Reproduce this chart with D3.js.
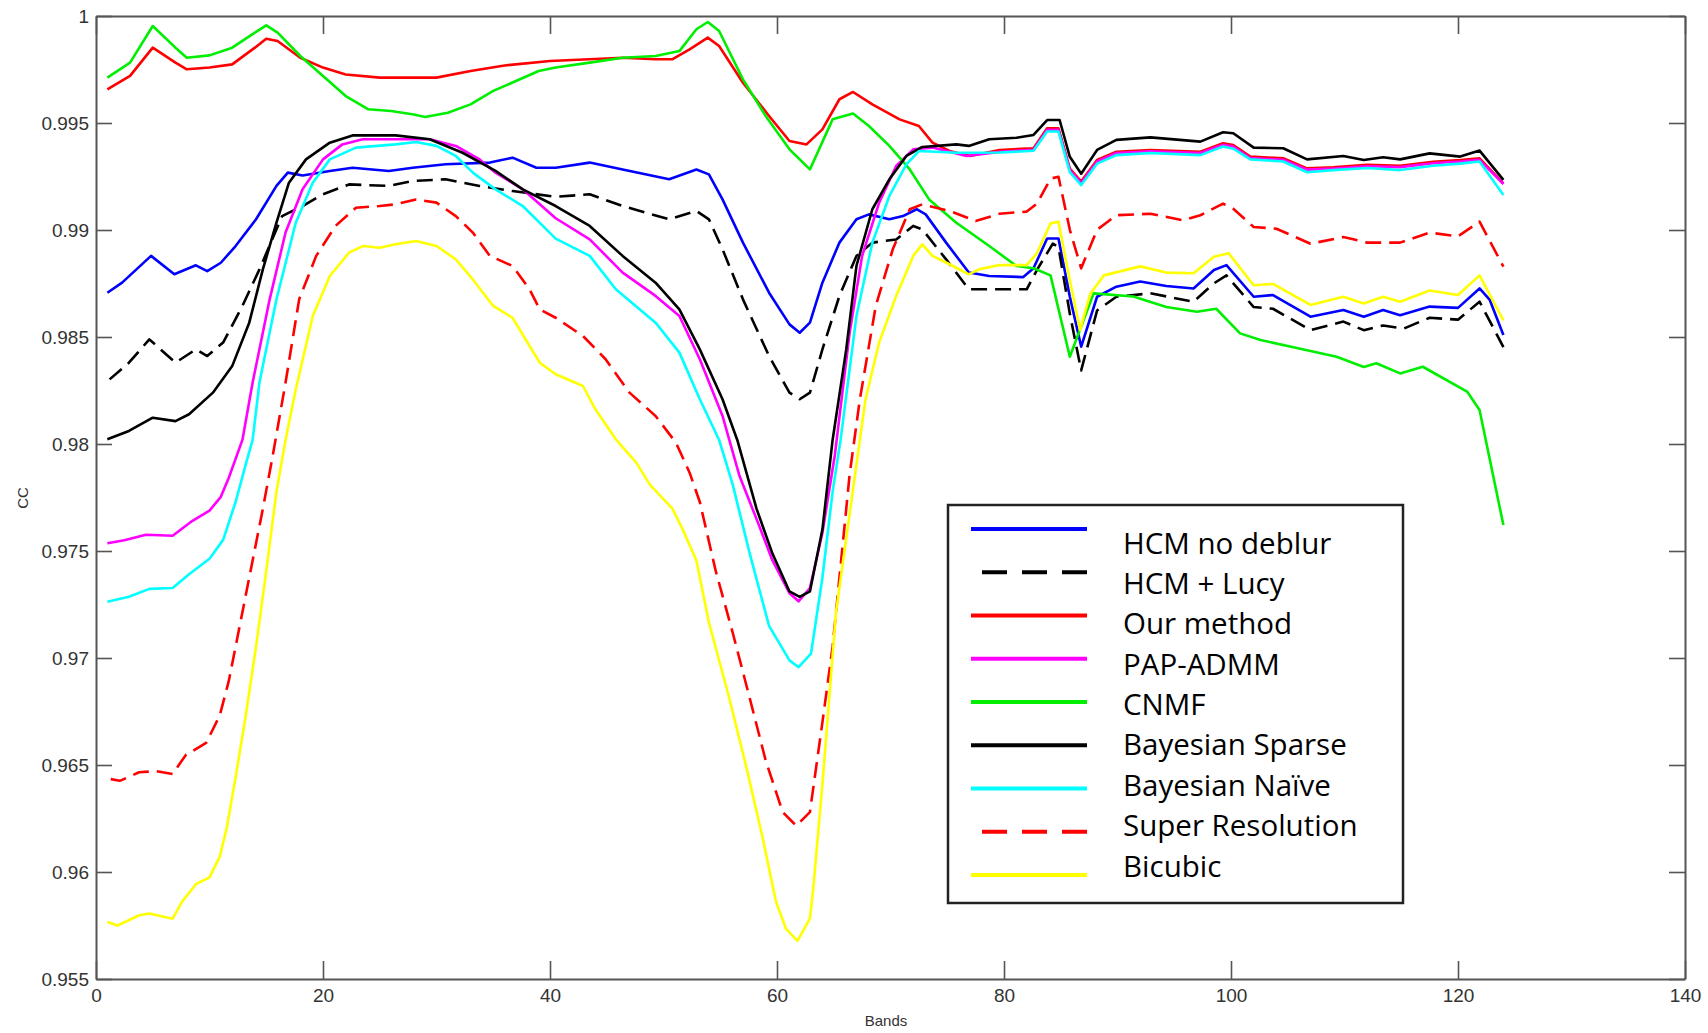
<!DOCTYPE html>
<html>
<head>
<meta charset="utf-8">
<title>CC per band</title>
<script src="https://cdn.jsdelivr.net/npm/d3@7"></script>
<style>
  html, body { margin: 0; padding: 0; background: #fff; }
  svg { display: block; }
  .tick text { font-family: "Liberation Sans", Arial, sans-serif; font-size: 19px; fill: #333; }
</style>
</head>
<body>
<svg id="chart" width="1708" height="1033"></svg>
<script>
// [band, CC] pairs
const hcmNoDeblur = [[1,0.98707],[2.3,0.98754],[4.85,0.98879],[6.9,0.98793],[8.8,0.98835],[9.8,0.98808],[11,0.98847],[12.3,0.98925],[14.1,0.9905],[15.9,0.99206],[16.9,0.99268],[18.2,0.99255],[20.6,0.99276],[22.6,0.99291],[25.8,0.99276],[27.9,0.99291],[30.8,0.99307],[34.7,0.99315],[36.7,0.99338],[38.8,0.99291],[40.5,0.99291],[43.5,0.99315],[46.4,0.99283],[50.5,0.99237],[52.9,0.99283],[54,0.9926],[55.2,0.99143],[57,0.98941],[59.3,0.98707],[61.1,0.98559],[62,0.9852],[62.9,0.98567],[64,0.98754],[65.5,0.98941],[67,0.9905],[68.1,0.99073],[69.9,0.9905],[71.1,0.99065],[72.3,0.99097],[73.1,0.99073],[74.9,0.98941],[76.9,0.98801],[78.7,0.98785],[81.7,0.9878],[82.6,0.98821],[83.8,0.9896],[84.8,0.9896],[85.8,0.98688],[86.8,0.98455],[88.2,0.98688],[89.9,0.98735],[92,0.98759],[94.3,0.98738],[96.7,0.98727],[98.5,0.98813],[99.6,0.98836],[102,0.98688],[103.7,0.98696],[107,0.98595],[109.9,0.98626],[111.7,0.98595],[113.4,0.98626],[114.9,0.98602],[117.5,0.98642],[120,0.98636],[121.9,0.98727],[122.8,0.98673],[124,0.98509]];
const hcmLucy = [[1.2,0.98302],[2.9,0.9838],[4.7,0.98489],[7,0.9838],[8.8,0.98442],[9.8,0.98411],[11.2,0.98474],[12.9,0.98645],[14.4,0.98816],[16.4,0.99065],[18.2,0.99112],[20,0.99167],[22.3,0.99213],[25.8,0.99206],[27.9,0.99229],[30.8,0.99237],[33.8,0.99206],[36.7,0.99182],[40.5,0.99155],[43.5,0.99167],[46.4,0.99112],[50.5,0.9905],[52.9,0.99089],[54,0.9905],[55.2,0.9891],[57,0.98676],[59.3,0.98411],[61.1,0.9824],[62,0.98209],[62.9,0.9824],[64,0.98442],[65.5,0.98692],[67,0.98879],[68.4,0.98941],[70.5,0.98956],[72,0.99019],[72.8,0.99003],[74.9,0.98863],[76.9,0.98723],[79.6,0.98723],[82,0.98723],[82.9,0.98813],[84.3,0.98936],[84.8,0.9892],[85.8,0.98609],[86.8,0.98344],[88.2,0.98624],[89.9,0.98688],[92.9,0.98704],[96.7,0.98665],[98.5,0.98751],[99.6,0.98788],[102,0.9864],[103.7,0.98632],[107,0.98532],[109.9,0.98572],[111.7,0.98532],[113.4,0.98554],[115.2,0.98539],[117.5,0.9859],[120,0.98581],[121.9,0.98665],[124,0.98453]];
const ourMethod = [[1,0.99657],[3,0.9972],[5,0.99852],[7,0.99782],[8,0.99751],[10,0.99759],[12,0.99774],[14,0.99852],[15,0.99894],[16,0.99883],[18,0.99805],[20,0.99759],[22,0.99727],[25,0.99712],[30,0.99712],[33,0.99743],[36,0.99769],[40,0.9979],[46.4,0.99805],[49.3,0.99798],[50.8,0.99798],[52.3,0.99844],[53.9,0.99899],[54.9,0.9986],[57,0.99688],[59.3,0.99533],[61.1,0.99416],[62.6,0.994],[64,0.9947],[65.5,0.99611],[66.7,0.99645],[68.4,0.99587],[70.8,0.99517],[72.5,0.99486],[73.7,0.99408],[75.2,0.99369],[77,0.99346],[79.6,0.99374],[82.6,0.99382],[83.8,0.99475],[84.8,0.99475],[85.8,0.99287],[86.8,0.99226],[88.2,0.99327],[89.9,0.99366],[92.9,0.99374],[97.3,0.99366],[99.3,0.99405],[100.2,0.99397],[101.7,0.99343],[104.6,0.99335],[106.7,0.99288],[109,0.99293],[112,0.99305],[114.9,0.993],[117.8,0.99319],[120.2,0.99327],[121.9,0.99335],[124,0.99218]];
const papAdmm = [[1,0.97536],[2.5,0.9755],[4.4,0.97576],[6.75,0.97571],[8.5,0.97641],[10,0.97689],[11,0.97753],[11.7,0.97842],[12.9,0.98019],[13.8,0.98287],[15.3,0.98676],[16.7,0.98988],[18.2,0.9919],[20,0.9933],[21.7,0.994],[23.5,0.99424],[29.4,0.99424],[31.7,0.99393],[33.8,0.9933],[35.2,0.99268],[37.6,0.9919],[40.5,0.99055],[43.5,0.98956],[46.4,0.98801],[49.3,0.98692],[51.4,0.98598],[53.2,0.98396],[55.2,0.98131],[56.7,0.9785],[58.2,0.97649],[59.6,0.97456],[61.1,0.97303],[61.9,0.97265],[62.9,0.97327],[64,0.97584],[65.1,0.9795],[66.4,0.9852],[67.5,0.98879],[69,0.99128],[70.5,0.99299],[72,0.99377],[73.7,0.99385],[76.7,0.99346],[79.6,0.99365],[82.6,0.99375],[83.8,0.99468],[84.8,0.99468],[85.8,0.9928],[86.8,0.9922],[88.2,0.9932],[89.9,0.9936],[92.9,0.99368],[97.3,0.9936],[99.3,0.99398],[100.2,0.9939],[101.7,0.99336],[104.6,0.99328],[106.7,0.99282],[109,0.99287],[112,0.99298],[114.9,0.99294],[117.8,0.99312],[120.2,0.9932],[121.9,0.99328],[124,0.99215]];
const cnmf = [[1,0.99712],[3,0.99782],[5,0.99953],[7,0.99852],[8,0.99805],[10,0.99816],[12,0.99852],[14,0.99922],[15,0.99956],[16,0.99922],[18,0.99813],[20,0.9972],[22,0.99626],[24,0.99564],[26,0.99556],[28,0.9954],[29,0.99528],[31,0.99548],[33,0.99587],[35,0.9965],[37,0.99696],[39,0.99743],[40.5,0.99759],[43.5,0.99782],[46.4,0.99805],[49.3,0.99813],[51.4,0.99836],[52.9,0.99938],[53.9,0.99972],[54.9,0.9993],[57,0.99704],[59,0.99533],[61.1,0.99377],[62.9,0.99283],[64.9,0.99517],[66.7,0.99544],[68.1,0.99486],[69.9,0.99393],[71.7,0.99283],[73.4,0.99143],[75.8,0.99034],[78.7,0.98925],[81.1,0.98832],[82.6,0.98821],[84.1,0.98788],[85.8,0.98408],[87.9,0.98704],[91.4,0.98689],[94.3,0.9864],[97,0.98618],[98.7,0.98632],[100.8,0.98517],[102.6,0.98486],[106.1,0.98445],[109.3,0.98408],[111.7,0.9836],[112.8,0.98377],[114.9,0.9833],[116.9,0.98361],[120.8,0.98245],[121.9,0.98159],[124,0.97621]];
const bayesSparse = [[1,0.98022],[2.9,0.98061],[5,0.98123],[7,0.98107],[8.2,0.98139],[10.3,0.9824],[12,0.98364],[13.5,0.98567],[14.7,0.98816],[15.9,0.99034],[17,0.99221],[18.5,0.9933],[20.6,0.99408],[22.6,0.99442],[26.4,0.99442],[29.4,0.99424],[32.3,0.99361],[35.2,0.99276],[37.6,0.9919],[40.5,0.99112],[43.5,0.99019],[46.4,0.98879],[49.3,0.98754],[51.4,0.98629],[53.2,0.98442],[55.2,0.98209],[56.5,0.98019],[58.2,0.97697],[59.6,0.97488],[61.1,0.97311],[62,0.97286],[62.9,0.97311],[64,0.976],[64.9,0.98019],[66.1,0.98442],[67,0.98832],[68.4,0.99097],[69.9,0.99237],[71.4,0.99346],[72.8,0.99388],[75.8,0.994],[76.9,0.99393],[78.7,0.99424],[81.1,0.99431],[82.6,0.99444],[83.8,0.99514],[84.9,0.99514],[85.8,0.99342],[86.8,0.99263],[88.2,0.99374],[89.9,0.99421],[92.9,0.99433],[97.3,0.99413],[99.3,0.99457],[100.2,0.99452],[102,0.99385],[104.6,0.99382],[106.7,0.9933],[109.9,0.99346],[111.7,0.99327],[113.4,0.9934],[114.9,0.9933],[117.5,0.99358],[120.2,0.99343],[121.9,0.99371],[124,0.99234]];
const bayesNaive = [[1,0.97263],[2.9,0.97286],[4.7,0.97323],[6.75,0.97327],[8.2,0.97391],[10,0.97464],[11.2,0.97552],[12.3,0.97729],[13.2,0.97906],[13.8,0.98019],[14.4,0.98287],[15.9,0.98676],[17.6,0.99034],[19.1,0.99221],[20.6,0.9933],[22.9,0.99385],[26.4,0.994],[28.2,0.99411],[30,0.99393],[31.7,0.99346],[33.2,0.99268],[35.2,0.9919],[37.6,0.99112],[40.5,0.9896],[43.5,0.98879],[45.8,0.98723],[49.3,0.98567],[51.4,0.98427],[53.2,0.98209],[54.9,0.98019],[56.1,0.9781],[57.6,0.97488],[59.3,0.9715],[61.1,0.96989],[61.9,0.96957],[63,0.97021],[64,0.97375],[64.9,0.97777],[65.6,0.98019],[67,0.98598],[68.4,0.98941],[69.9,0.99159],[71.4,0.99307],[72.5,0.99369],[75.8,0.99361],[79.6,0.99362],[82.6,0.9937],[83.8,0.9946],[84.8,0.9946],[85.8,0.9927],[86.8,0.9921],[88.2,0.9931],[89.9,0.9935],[92.9,0.9936],[97.3,0.9935],[99.3,0.9939],[100.2,0.9938],[101.7,0.9933],[104.6,0.9932],[106.7,0.9927],[109,0.9928],[112,0.9929],[114.9,0.9928],[117.8,0.993],[120.2,0.9931],[121.9,0.9932],[124,0.99164]];
const superRes = [[1.3,0.96434],[2.1,0.96426],[3.8,0.96466],[5.3,0.96471],[6.75,0.96458],[7.9,0.96546],[9.7,0.96603],[10.9,0.96731],[11.7,0.96893],[12.9,0.97214],[13.8,0.97456],[14.7,0.97697],[15.6,0.97954],[16.7,0.98287],[17.9,0.98676],[19.4,0.98879],[21.1,0.99019],[22.9,0.99104],[25,0.99112],[26.4,0.9912],[28.2,0.99143],[30,0.99128],[31.7,0.99065],[33.2,0.98988],[34.7,0.98879],[36.7,0.98832],[38.2,0.98723],[39.1,0.98629],[40.5,0.9859],[42.9,0.98505],[44.9,0.98396],[47,0.9824],[49.3,0.98131],[51.1,0.98006],[52.3,0.97866],[53.2,0.97729],[54.6,0.97407],[56.1,0.97118],[57.6,0.96812],[59,0.96522],[60.5,0.9628],[61.7,0.96216],[62.9,0.9628],[64,0.96699],[64.9,0.97053],[65.8,0.97536],[66.4,0.97858],[67.3,0.98209],[68.7,0.98645],[70.2,0.9891],[71.7,0.99097],[72.8,0.9912],[75.2,0.99089],[77.5,0.99042],[79.6,0.99076],[82,0.99086],[82.9,0.99123],[84.1,0.9924],[84.8,0.99249],[85.8,0.99001],[86.8,0.98821],[88.2,0.99001],[89.9,0.99069],[92.9,0.99076],[95.8,0.99045],[97.3,0.99069],[99.3,0.99123],[100.2,0.99099],[102,0.99014],[104,0.99006],[107,0.98936],[109.9,0.98967],[112,0.98941],[114.9,0.98941],[117.5,0.98988],[120,0.9897],[121.9,0.99039],[124,0.98829]];
const bicubic = [[1,0.95766],[1.9,0.9575],[3.8,0.95798],[4.7,0.95806],[6.75,0.95782],[7.6,0.95863],[8.8,0.95943],[10,0.95975],[10.9,0.96072],[11.5,0.96201],[12.3,0.96442],[13.2,0.96731],[14.1,0.97053],[15,0.97407],[15.9,0.97777],[16.7,0.98019],[17.6,0.98255],[19.1,0.98598],[20.6,0.98785],[22.3,0.98894],[23.5,0.98925],[25,0.98917],[26.4,0.98933],[28.2,0.98949],[30,0.98925],[31.7,0.98863],[33.2,0.98769],[35,0.98645],[36.7,0.9859],[38.2,0.98458],[39.1,0.9838],[40.5,0.98326],[42.9,0.98271],[44,0.98162],[45.8,0.98022],[47.6,0.97913],[48.8,0.9781],[50.8,0.97697],[51.7,0.976],[52.9,0.97456],[54,0.97166],[55.8,0.96812],[57.3,0.9649],[58.7,0.96168],[59.9,0.95863],[60.8,0.95734],[61.8,0.95678],[62.9,0.95782],[63.2,0.95926],[64,0.96409],[65.2,0.97214],[67.3,0.98019],[67.8,0.98209],[69,0.98474],[70.5,0.98692],[72,0.98879],[72.8,0.98933],[73.7,0.98879],[75.2,0.9884],[76.9,0.98793],[77.8,0.98816],[79.6,0.98836],[82,0.98836],[82.9,0.98891],[84.1,0.99031],[84.8,0.99039],[85.5,0.98844],[86.7,0.98533],[87.6,0.98702],[88.8,0.98788],[92,0.9883],[94.3,0.98801],[96.7,0.98798],[98.5,0.98875],[99.8,0.98891],[102,0.98742],[103.7,0.98748],[107,0.9865],[109.9,0.98688],[111.7,0.98657],[113.4,0.98688],[114.9,0.98665],[117.5,0.98717],[120,0.98696],[121.9,0.98788],[124,0.98578]];

const seriesNames = ["HCM no deblur", "HCM + Lucy", "Our method", "PAP-ADMM", "CNMF",
  "Bayesian Sparse", "Bayesian Naïve", "Super Resolution", "Bicubic"];
const seriesData = [hcmNoDeblur, hcmLucy, ourMethod, papAdmm, cnmf,
  bayesSparse, bayesNaive, superRes, bicubic];
const xTicks = [0, 20, 40, 60, 80, 100, 120, 140];
const yTicks = [0.955, 0.96, 0.965, 0.97, 0.975, 0.98, 0.985, 0.99, 0.995, 1];

// line styles, same order as the series
const colours = ["#0000ff", "#000000", "#ff0000", "#ff00ff", "#00ee00",
  "#000000", "#00ffff", "#ff0000", "#ffff00"];
const dashed = [false, true, false, false, false, false, false, true, false];

const svg = d3.select("#chart");
const plotLeft = 96, plotRight = 1685, plotTop = 16, plotBottom = 979;

const x = d3.scaleLinear().domain([0, 140]).range([plotLeft, plotRight]);
const y = d3.scaleLinear().domain([0.955, 1]).range([plotBottom, plotTop]);

svg.append("rect").attr("width", 1708).attr("height", 1033).attr("fill", "#fff");

// curves
const line = d3.line().x((d) => x(d[0])).y((d) => y(d[1]));

svg.append("g")
  .selectAll("path")
  .data(seriesData)
  .join("path")
  .attr("d", line)
  .attr("fill", "none")
  .attr("stroke", (d, i) => colours[i])
  .attr("stroke-width", 2.6)
  .attr("stroke-linejoin", "round")
  .attr("stroke-dasharray", (d, i) => (dashed[i] ? "16,8" : null));

// axes: MATLAB style box with inward ticks
const fmt = (d) => String(+d.toFixed(3));

const styleAxis = (g) => {
  g.select(".domain").attr("stroke", "#555").attr("stroke-width", 2);
  g.selectAll(".tick line").attr("stroke", "#555").attr("stroke-width", 1.6);
};

svg.append("g")
  .attr("transform", `translate(0,${plotBottom})`)
  .call(d3.axisBottom(x).tickValues(xTicks).tickFormat(fmt)
    .tickSizeInner(-18).tickSizeOuter(0).tickPadding(10))
  .call(styleAxis);

svg.append("g")
  .attr("transform", `translate(0,${plotTop})`)
  .call(d3.axisTop(x).tickValues(xTicks).tickFormat("")
    .tickSizeInner(-18).tickSizeOuter(0))
  .call(styleAxis);

svg.append("g")
  .attr("transform", `translate(${plotLeft},0)`)
  .call(d3.axisLeft(y).tickValues(yTicks).tickFormat(fmt)
    .tickSizeInner(-16).tickSizeOuter(0).tickPadding(7))
  .call(styleAxis);

svg.append("g")
  .attr("transform", `translate(${plotRight},0)`)
  .call(d3.axisRight(y).tickValues(yTicks).tickFormat("")
    .tickSizeInner(-16).tickSizeOuter(0))
  .call(styleAxis);

svg.selectAll(".tick text").attr("font-family", null).attr("font-size", null);

// axis titles
svg.append("text")
  .attr("x", 886).attr("y", 1026)
  .attr("text-anchor", "middle")
  .attr("font-family", "Liberation Sans, Arial, sans-serif")
  .attr("font-size", 15).attr("fill", "#333")
  .text("Bands");

svg.append("text")
  .attr("transform", "translate(28,498) rotate(-90)")
  .attr("text-anchor", "middle")
  .attr("font-family", "Liberation Sans, Arial, sans-serif")
  .attr("font-size", 15).attr("fill", "#333")
  .text("CC");

// legend
const legend = svg.append("g");
legend.append("rect")
  .attr("x", 948).attr("y", 505).attr("width", 455).attr("height", 398)
  .attr("fill", "#fff").attr("stroke", "#222").attr("stroke-width", 2.5);

const lineRow = d3.scaleLinear().domain([0, 8]).range([529, 875]);
const textRow = d3.scaleLinear().domain([0, 8]).range([542, 865]);

legend.selectAll("line")
  .data(seriesNames)
  .join("line")
  .attr("x1", (d, i) => (dashed[i] ? 982 : 971)).attr("x2", 1087)
  .attr("y1", (d, i) => lineRow(i)).attr("y2", (d, i) => lineRow(i))
  .attr("stroke", (d, i) => colours[i])
  .attr("stroke-width", 4)
  .attr("stroke-dasharray", (d, i) => (dashed[i] ? "25,15" : null));

legend.selectAll("text")
  .data(seriesNames)
  .join("text")
  .attr("x", 1123)
  .attr("y", (d, i) => textRow(i))
  .attr("dominant-baseline", "central")
  .attr("font-family", "Open Sans, sans-serif")
  .attr("font-size", 29.5)
  .attr("fill", "#000")
  .text((d) => d);
</script>
</body>
</html>
